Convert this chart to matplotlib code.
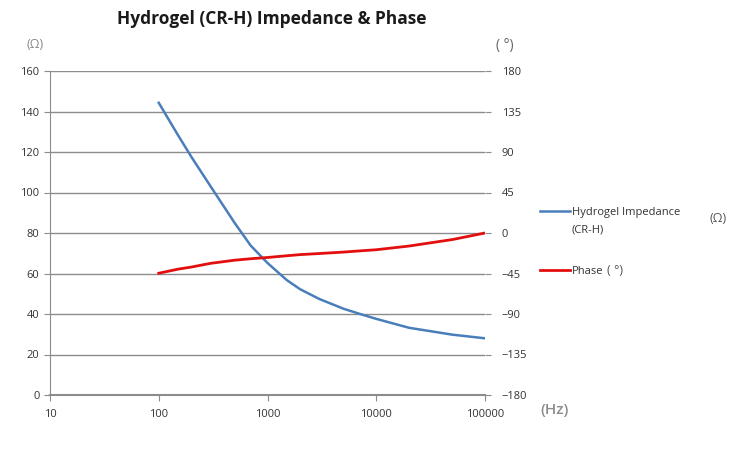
import matplotlib
matplotlib.use("Agg")
import matplotlib.pyplot as plt
import numpy as np

freq = [100, 150, 200, 300, 500, 700, 1000, 1500, 2000, 3000, 5000, 7000,
        10000, 20000, 50000, 100000]
impedance = [144.3, 128.4, 117.5, 103, 84.9, 73.8, 65.2, 56.8, 52.2, 47.4,
             42.6, 40.1, 37.6, 33.2, 29.8, 28]
phase = [-44.7, -40.2, -37.8, -33.7, -30.2, -28.6, -27.2, -25.3, -24, -22.8,
         -21.2, -19.9, -18.6, -14.5, -7.3, 0]
x_ticks = [10, 100, 1000, 10000, 100000]
y_left = [0, 20, 40, 60, 80, 100, 120, 140, 160]
y_right = [-180, -135, -90, -45, 0, 45, 90, 135, 180]

plt.rcParams['font.family'] = ['Open Sans', 'DejaVu Sans']
fig = plt.figure(figsize=(7.4, 4.51), dpi=100)
ax = fig.add_axes([50/740, 1-395/451, (485-50)/740, (395-71)/451])
ax2 = ax.twinx()

ax.plot(freq, impedance, color='#4a7ebb', lw=1.8, zorder=3, solid_joinstyle='round')
ax2.plot(freq, phase, color='#e30f0f', lw=2.0, zorder=3, solid_joinstyle='round')

ax.set_xscale('log')
ax.set_xlim(10, 100000)
ax.set_ylim(0, 160)
ax2.set_ylim(-180, 180)
ax.set_xticks(x_ticks)
ax.set_xticklabels([str(v) for v in x_ticks])
ax.xaxis.set_minor_locator(matplotlib.ticker.NullLocator())
ax.set_yticks(y_left)
ax2.set_yticks(y_right)
ax.grid(axis='y', color='#8c8c8c', lw=1)
ax.set_axisbelow(True)

for a in (ax, ax2):
    for s in ('top', 'right', 'left', 'bottom'):
        a.spines[s].set_visible(False)
ax.spines['left'].set_visible(True)
ax.spines['bottom'].set_visible(True)
ax.spines['left'].set_color('#8c8c8c')
ax.spines['bottom'].set_color('#8c8c8c')
ax.spines['bottom'].set_linewidth(1.5)
ax.tick_params(axis='both', colors='#8c8c8c', labelcolor='#333333', labelsize=8, length=4)
ax.tick_params(axis='x', pad=6)
ax2.tick_params(axis='y', colors='#8c8c8c', labelcolor='#333333', labelsize=8, length=4, pad=8)

fig.text(272/740, 1-19/451, 'Hydrogel (CR-H) Impedance & Phase', ha='center', va='center',
         fontsize=12.5, fontweight='bold', color='#1a1a1a')
fig.text(35/740, 1-45/451, '(Ω)', ha='center', va='center', fontsize=9, color='#888888')
fig.text(505/740, 1-45/451, '( °)', ha='center', va='center', fontsize=10, color='#666666')
fig.text(555/740, 1-410/451, '(Hz)', ha='center', va='center', fontsize=11,
         fontweight='semibold', color='#8c8c8c')

# legend
fig.add_artist(plt.Line2D([540/740, 570/740], [1-211/451, 1-211/451], color='#4a7ebb', lw=1.8))
fig.text(572/740, 1-212/451, 'Hydrogel Impedance', ha='left', va='center', fontsize=8, color='#333333')
fig.text(572/740, 1-230/451, '(CR-H)', ha='left', va='center', fontsize=8, color='#333333')
fig.text(718/740, 1-218/451, '(Ω)', ha='center', va='center', fontsize=9, color='#555555')
fig.add_artist(plt.Line2D([540/740, 570/740], [1-270/451, 1-270/451], color='#e30f0f', lw=2.0))
fig.text(572/740, 1-271/451, 'Phase', ha='left', va='center', fontsize=8, color='#333333')
fig.text(607/740, 1-271/451, '( °)', ha='left', va='center', fontsize=9, color='#555555')

fig.savefig('out.png', dpi=100)
